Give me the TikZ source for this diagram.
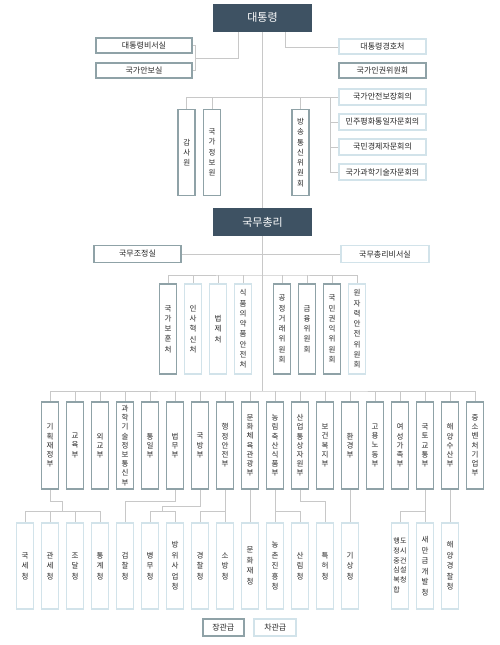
\documentclass[tikz,border=0pt]{standalone}
\usepackage{fontspec}
\setmainfont{Noto Sans CJK KR}
\usetikzlibrary{backgrounds,calc}
\definecolor{topfill}{RGB}{62,82,99}
\definecolor{majc}{RGB}{143,162,167}
\definecolor{minc}{RGB}{210,227,234}
\definecolor{linec}{RGB}{200,200,200}
\definecolor{txt}{RGB}{40,40,40}
\begin{document}
\begin{tikzpicture}[x=1pt,y=-1pt,
  every node/.style={inner sep=0pt, outer sep=0pt, text=txt},
  headbox/.style={fill=topfill, text=white, minimum width=99pt, minimum height=28pt, font=\fontsize{11}{13}\selectfont},
  major/.style={draw=majc, line width=1.8pt, fill=white},
  minor/.style={draw=minc, line width=1.8pt, fill=white},
  hb/.style={minimum height=14.5pt, font=\fontsize{8}{10}\selectfont},
  vb/.style={minimum width=17pt, align=center, font=\fontsize{7.5}{10.3}\selectfont},
  mb/.style={major, minimum width=17pt, minimum height=87pt, align=center, font=\fontsize{7.5}{9.2}\selectfont},
  ab/.style={minor, minimum width=17pt, minimum height=86.5pt, align=center, font=\fontsize{7.5}{10.5}\selectfont},
  conn/.style={draw=linec, line width=0.8pt}
]
\useasboundingbox (0,0) rectangle (499,645);

% President level
\node[headbox] (top) at (262.5,17.5) {대통령};
\node[major,hb,minimum width=96pt] (s1) at (144,45.5) {대통령비서실};
\node[major,hb,minimum width=96pt] (s2) at (144,70.5) {국가안보실};
\node[minor,hb,minimum width=87pt] (sec) at (382.5,46.5) {대통령경호처};
\node[major,hb,minimum width=87pt] (hr) at (382.5,70.5) {국가인권위원회};
\node[minor,hb,minimum width=87pt,minimum height=16.5pt] (c1) at (382.5,97) {국가안전보장회의};
\node[minor,hb,minimum width=87pt,minimum height=16.5pt] (c2) at (382.5,122) {민주평화통일자문회의};
\node[minor,hb,minimum width=87pt,minimum height=16.5pt] (c3) at (382.5,147) {국민경제자문회의};
\node[minor,hb,minimum width=87pt,minimum height=16.5pt] (c4) at (382.5,172) {국가과학기술자문회의};

\node[major,vb,minimum height=86pt] (gam) at (186.7,152.5) {감\\사\\원};
\node[major,vb,minimum height=86pt] (nis) at (212,152.5) {국\\가\\정\\보\\원};
\node[major,vb,minimum height=86pt] (kcc) at (300.5,152.5) {방\\송\\통\\신\\위\\원\\회};

% Prime minister level
\node[headbox] (pm) at (262.5,222) {국무총리};
\node[major,hb,minimum width=86.5pt,minimum height=17pt] (ops) at (137.5,254) {국무조정실};
\node[minor,hb,minimum width=88pt,minimum height=17pt] (pms) at (385,254) {국무총리비서실};

\node[major,vb,minimum height=90pt] (a1) at (168,329) {국\\가\\보\\훈\\처};
\node[minor,vb,minimum height=90pt] (a2) at (193,329) {인\\사\\혁\\신\\처};
\node[minor,vb,minimum height=90pt] (a3) at (218,329) {법\\제\\처};
\node[minor,vb,minimum height=90pt] (a4) at (243,329) {식\\품\\의\\약\\품\\안\\전\\처};
\node[major,vb,minimum height=90pt] (a5) at (282,329) {공\\정\\거\\래\\위\\원\\회};
\node[major,vb,minimum height=90pt] (a6) at (307,329) {금\\융\\위\\원\\회};
\node[major,vb,minimum height=90pt] (a7) at (332,329) {국\\민\\권\\익\\위\\원\\회};
\node[minor,vb,minimum height=90pt] (a8) at (357,329) {원\\자\\력\\안\\전\\위\\원\\회};

% Ministries
\node[mb] (m1) at (50,445.5) {기\\획\\재\\정\\부};
\node[mb] (m2) at (75,445.5) {교\\육\\부};
\node[mb] (m3) at (100,445.5) {외\\교\\부};
\node[mb] (m4) at (125,445.5) {과\\학\\기\\술\\정\\보\\통\\신\\부};
\node[mb] (m5) at (150,445.5) {통\\일\\부};
\node[mb] (m6) at (175,445.5) {법\\무\\부};
\node[mb] (m7) at (200,445.5) {국\\방\\부};
\node[mb] (m8) at (225,445.5) {행\\정\\안\\전\\부};
\node[mb] (m9) at (250,445.5) {문\\화\\체\\육\\관\\광\\부};
\node[mb] (m10) at (275,445.5) {농\\림\\축\\산\\식\\품\\부};
\node[mb] (m11) at (300,445.5) {산\\업\\통\\상\\자\\원\\부};
\node[mb] (m12) at (325,445.5) {보\\건\\복\\지\\부};
\node[mb] (m13) at (350,445.5) {환\\경\\부};
\node[mb] (m14) at (375,445.5) {고\\용\\노\\동\\부};
\node[mb] (m15) at (400,445.5) {여\\성\\가\\족\\부};
\node[mb] (m16) at (425,445.5) {국\\토\\교\\통\\부};
\node[mb] (m17) at (450,445.5) {해\\양\\수\\산\\부};
\node[mb] (m18) at (475,445.5) {중\\소\\벤\\처\\기\\업\\부};

% Agencies
\node[ab] (g1) at (25,566) {국\\세\\청};
\node[ab] (g2) at (50,566) {관\\세\\청};
\node[ab] (g3) at (75,566) {조\\달\\청};
\node[ab] (g4) at (100,566) {통\\계\\청};
\node[ab] (g5) at (125,566) {검\\찰\\청};
\node[ab] (g6) at (150,566) {병\\무\\청};
\node[ab] (g7) at (175,566) {방\\위\\사\\업\\청};
\node[ab] (g8) at (200,566) {경\\찰\\청};
\node[ab] (g9) at (225,566) {소\\방\\청};
\node[ab] (g10) at (250,566) {문\\화\\재\\청};
\node[ab] (g11) at (275,566) {농\\촌\\진\\흥\\청};
\node[ab] (g12) at (300,566) {산\\림\\청};
\node[ab] (g13) at (325,566) {특\\허\\청};
\node[ab] (g14) at (350,566) {기\\상\\청};
\node[ab,font=\fontsize{7}{10.5}\selectfont] (g15) at (400,566) {\renewcommand{\arraystretch}{0.95}\begin{tabular}{@{}c@{\hspace{0.4pt}}c@{}}행&도\\정&시\\중&건\\심&설\\복&청\\합&\end{tabular}};
\node[ab] (g16) at (425,566) {새\\만\\금\\개\\발\\청};
\node[ab] (g17) at (450,566) {해\\양\\경\\찰\\청};

% Legend
\node[major,minimum width=41pt,minimum height=16.5pt,font=\fontsize{8}{10}\selectfont] (lg1) at (223.3,627.5) {장관급};
\node[minor,minimum width=42pt,minimum height=16.5pt,font=\fontsize{8}{10}\selectfont] (lg2) at (275.3,627.5) {차관급};

\begin{scope}[on background layer]
\begin{scope}[conn]
\draw (top.south) -- (pm.north);
\draw (s1.east) -- ++(3,0) coordinate (k1) -- (k1 |- s2.east) -- (s2.east);
\coordinate (jL) at (238,58.5);
\draw (k1 |- jL) -- (jL) -- (jL |- top.south);
\coordinate (jR) at (285,47.5);
\draw (jR |- top.south) -- (jR) -- (sec.west |- jR);
\draw (gam.north) |- (c1.west);
\draw (nis.north) -- (nis.north |- c1.west);
\draw (kcc.north) -- (kcc.north |- c1.west);
\coordinate (v) at (330,97);
\draw (v) |- (c4.west);
\draw (v |- c2.west) -- (c2.west);
\draw (v |- c3.west) -- (c3.west);
\draw (ops.east) -- (ops.east -| pm.south);
\draw (pms.west) -- (pms.west -| pm.south);
\coordinate (busA) at (262.5,275);
\coordinate (busM) at (262.5,391);
\draw (a1.north) |- (busA) -| (a8.north);
\foreach \k in {2,...,7} \draw (a\k.north) -- (a\k.north |- busA);
\draw (pm.south) -- (busM);
\draw (m1.north) |- (busM) -| (m18.north);
\foreach \k in {2,...,17} \draw (m\k.north) -- (m\k.north |- busM);
% agencies
\coordinate (ah) at (0,501.5);
\coordinate (ai) at (0,506.5);
\coordinate (ag) at (0,511.5);
\coordinate (mid14) at ($(g1.north)!0.5!(g4.north)$);
\draw (m1.south) |- (mid14 |- ah) -- (mid14 |- ag);
\draw (g1.north) |- (g4.north |- ag) -- (g4.north);
\draw (g2.north) -- (g2.north |- ag);
\draw (g3.north) -- (g3.north |- ag);
\draw (m6.south) |- (g5.north |- ah) -- (g5.north);
\coordinate (mid67) at ($(g6.north)!0.5!(g7.north)$);
\draw (m7.south) |- (mid67 |- ai) -- (mid67 |- ag);
\draw (g6.north) |- (g7.north |- ag) -- (g7.north);
\draw (m8.south) -- (g9.north);
\draw (g8.north) |- (g9.north |- ag);
\draw (m9.south) -- (g10.north);
\draw (m10.south) -- (g11.north);
\draw (g12.north) |- (g11.north |- ag);
\draw (m11.south) |- (g13.north |- ah) -- (g13.north);
\draw (m13.south) -- (g14.north);
\draw (m16.south) -- (g16.north);
\draw (g15.north) |- (g16.north |- ag);
\draw (m17.south) -- (g17.north);
\end{scope}
\end{scope}
\end{tikzpicture}
\end{document}
